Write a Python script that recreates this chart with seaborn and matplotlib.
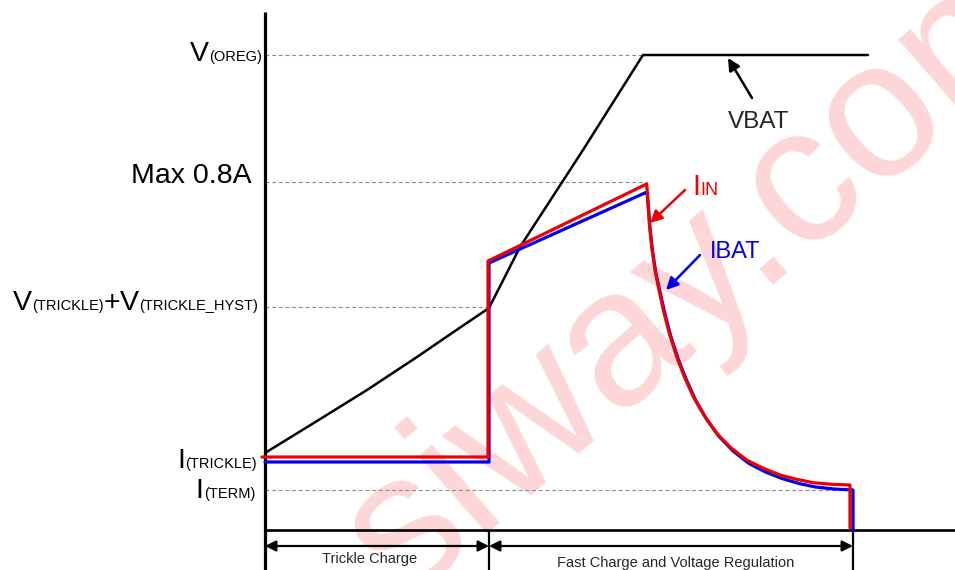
#!/usr/bin/env python
"""
Charge profile diagram: VBAT, IIN and IBAT over the trickle / fast charge phases.
Units are arbitrary: time to the right, level upward, origin at the axis corner.
"""

import matplotlib
matplotlib.use("Agg")
import matplotlib.pyplot as plt
import seaborn as sns

sns.set_style("white")
plt.rcParams["font.family"] = ["Liberation Sans", "DejaVu Sans"]

# battery voltage
vbat_t = [0, 52, 102, 152, 190, 224, 255, 318, 378, 603]
vbat_v = [77, 109, 140, 173, 199, 222, 283, 380, 475, 475]

# input current
iin_t = [-3, 223, 223, 381.7, 383, 384.3, 386.7, 390, 394, 398.3, 404.3, 411.7,
         419.3, 428.3, 439.3, 451.7, 465.7, 481.7, 498.3, 515, 531.7, 548.3,
         566.7, 585, 585]
iin_v = [73, 73, 269, 346, 326.7, 306.7, 283.3, 260, 240, 220, 196.7, 173.3,
         153.3, 133.3, 114.3, 96.7, 82.3, 70, 61.7, 55, 50.7, 47.3,
         45.7, 45, 2]

# battery current
ibat_t = [0, 224, 224, 382, 383.5, 385, 387.5, 391, 395.5, 400, 406, 413.5,
          421.5, 430.5, 441.5, 454, 468, 484, 500.5, 517, 534, 550.5,
          569, 588, 588]
ibat_v = [68, 68, 267, 338, 322, 302, 279, 256, 236, 216, 193, 170,
          150, 130, 111, 93.5, 79, 66.5, 58, 51.5, 46.5, 43,
          41, 40, 0]

# reference levels on the vertical axis and how far their guide lines run
level_v = [475, 348, 223, 40]
level_end = [378, 382, 224, 585]

# phase boundaries on the time axis
phase_edges = [0, 224, 588]
phase_names = ["Trickle Charge", "Fast Charge and Voltage Regulation"]

SUB = 10.5
BIG = 20.5
axis_labels = [
    ([("V", BIG), ("(OREG)", SUB)], 469),
    ([("Max 0.8A", BIG)], 347),
    ([("V", BIG), ("(TRICKLE)", SUB), ("+", BIG), ("V", BIG), ("(TRICKLE_HYST)", SUB)], 220),
    ([("I", BIG), ("(TRICKLE)", SUB)], 62),
    ([("I", BIG), ("(TERM)", SUB)], 32),
]
label_right = [-3, -13, -7, -8, -10]


def composite_text(ax, parts, x, y, color="black", align="right"):
    """Draw text pieces of mixed size on one baseline, ending (or starting) at x."""
    renderer = ax.figure.canvas.get_renderer()
    offset = 0.0
    seq = reversed(parts) if align == "right" else parts
    for text, size in seq:
        t = ax.annotate(text, xy=(x, y), xytext=(offset, 0), textcoords="offset pixels",
                        ha=align, va="baseline", fontsize=size, color=color)
        w = t.get_window_extent(renderer).width
        offset += -w if align == "right" else w


fig = plt.figure(figsize=(9.55, 5.7), dpi=100)
ax = fig.add_axes([0, 0, 1, 1])
ax.set_xlim(-265, 690)
ax.set_ylim(-40, 530)
ax.axis("off")

# watermark
ax.text(138, -72, "siway.com", rotation=41, rotation_mode="anchor", ha="left",
        va="baseline", fontsize=140, color="#fdd7d7", zorder=0, clip_on=True)

# axes
ax.plot([0, 0], [-40, 518], color="black", lw=2.3, solid_capstyle="butt")
ax.plot([0, 690], [0, 0], color="black", lw=1.9, solid_capstyle="butt")
for xe in phase_edges[1:]:
    ax.plot([xe, xe], [0, -40], color="black", lw=1.6, solid_capstyle="butt")

# guide lines
for yv, xe in zip(level_v, level_end):
    ax.plot([0, xe], [yv, yv], color="#8c8c8c", lw=0.8, ls=(0, (3.5, 2.5)), zorder=1)

# curves
sns.lineplot(x=vbat_t, y=vbat_v, sort=False, estimator=None, color="black", lw=1.8, ax=ax)
sns.lineplot(x=ibat_t, y=ibat_v, sort=False, estimator=None, color="#0000ee", lw=2.3, ax=ax)
sns.lineplot(x=iin_t, y=iin_v, sort=False, estimator=None, color="#ee0000", lw=2.3, ax=ax)

# phase arrows
for x0, x1, name in zip(phase_edges[:-1], phase_edges[1:], phase_names):
    ax.annotate("", xy=(x1, -16), xytext=(x0, -16),
                arrowprops=dict(arrowstyle="<|-|>", color="black", lw=1.6,
                                mutation_scale=16, shrinkA=0, shrinkB=0))
ax.text(105, -33, phase_names[0], ha="center", va="baseline", fontsize=10.5)
ax.text(411, -37, phase_names[1], ha="center", va="baseline", fontsize=10.5)

# level labels
for (parts, yb), xr in zip(axis_labels, label_right):
    composite_text(ax, parts, xr, yb)

# curve callouts
ax.annotate("", xy=(463, 472), xytext=(487, 432),
            arrowprops=dict(arrowstyle="-|>", color="black", lw=1.8,
                            mutation_scale=18, shrinkA=0, shrinkB=0))
ax.text(463, 402, "VBAT", ha="left", va="baseline", fontsize=17.5)

ax.annotate("", xy=(385, 307), xytext=(420, 340),
            arrowprops=dict(arrowstyle="-|>", color="#ee0000", lw=1.8,
                            mutation_scale=18, shrinkA=0, shrinkB=0))
composite_text(ax, [("I", 21), ("IN", 13)], 427, 335, color="#ee0000", align="left")

ax.annotate("", xy=(401, 240), xytext=(435, 275),
            arrowprops=dict(arrowstyle="-|>", color="#0000ee", lw=1.8,
                            mutation_scale=18, shrinkA=0, shrinkB=0))
ax.text(445, 272, "IBAT", ha="left", va="baseline", fontsize=17, color="#0000ee")

fig.savefig("out.png", dpi=100)
